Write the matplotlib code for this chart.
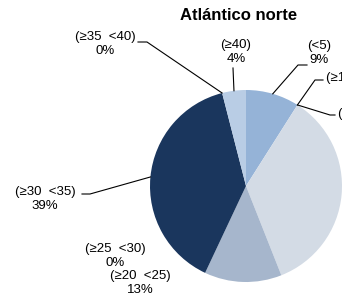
import matplotlib.pyplot as plt
import numpy as np

plt.rcParams['font.family'] = ['Liberation Sans', 'DejaVu Sans']

# data
categories = ['(<5)', '(≥5  <10)', '(≥10  <15)', '(≥15  <20)', '(≥20  <25)',
              '(≥25  <30)', '(≥30  <35)', '(≥35  <40)', '(≥40)']
shares = [9, 0, 0, 35, 13, 0, 39, 0, 4]

colors = ['#95B3D7', '#C6D4E6', '#DCE4EE', '#D3DBE5', '#A6B6CC',
          '#7F95B4', '#1A365D', '#4F6D96', '#B9CDE5']

W, H = 342, 296
cx, cy, r = 246, H - 186, 96

# label layout in pixels from top-left: (text centre x, text centre y, leader points text->pie)
label_layout = {
    '(<5)': (319, 53, [(307, 65), (298, 65)]),
    '(≥5  <10)': (365, 121, [(335, 115), (330, 115)]),
    '(≥10  <15)': (356, 85, [(323, 80), (315, 80)]),
    '(≥15  <20)': (385, 195, []),
    '(≥20  <25)': (140, 283, []),
    '(≥25  <30)': (115, 256, []),
    '(≥30  <35)': (45, 199, [(82, 194), (90, 194)]),
    '(≥35  <40)': (105, 44, [(138, 42), (147, 42)]),
    '(≥40)': (236, 52, [(233, 68)]),
}

fig = plt.figure(figsize=(W / 100, H / 100), dpi=100)
ax = fig.add_axes([0, 0, 1, 1])

wedges, _ = ax.pie(shares, colors=colors, startangle=90, counterclock=False,
                   center=(cx, cy), radius=r, wedgeprops=dict(linewidth=0))
ax.set_xlim(0, W)
ax.set_ylim(0, H)
ax.set_aspect('equal')
ax.axis('off')

for w, cat, val in zip(wedges, categories, shares):
    tx, ty, pts = label_layout[cat]
    ax.text(tx, H - ty, f'{cat}\n{val}%', ha='center', va='center',
            fontsize=9.5, linespacing=1.15, clip_on=False)
    if pts:
        mid = np.deg2rad((w.theta1 + w.theta2) / 2)
        ax_pt = (cx + r * np.cos(mid), cy + r * np.sin(mid))
        xs = [p[0] for p in pts] + [ax_pt[0]]
        ys = [H - p[1] for p in pts] + [ax_pt[1]]
        ax.plot(xs, ys, color='black', linewidth=0.8)

fig.text(239 / W, 1 - 16 / H, 'Atlántico norte', ha='center', va='center',
         fontsize=12, fontweight='bold')

fig.savefig('out.png', dpi=100)
